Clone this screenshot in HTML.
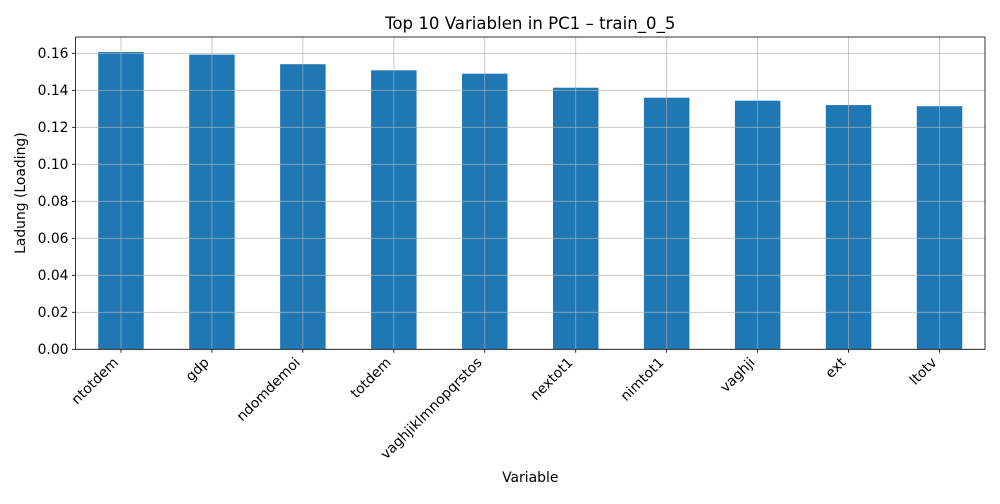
<!DOCTYPE html>
<html><head><meta charset="utf-8"><style>
body{margin:0;background:#fff;font-family:"DejaVu Sans","Liberation Sans",sans-serif}
svg text{font-family:"DejaVu Sans","Liberation Sans",sans-serif;fill:#000}
</style></head><body>
<svg id="chart" width="1000" height="500"></svg>
<script>
const categories=["ntotdem","gdp","ndomdemoi","totdem","vaghjiklmnopqrstos","nextot1","nimtot1","vaghji","ext","ltotv"];
const values=[0.1607,0.1593,0.1541,0.1508,0.1490,0.1414,0.1360,0.1344,0.1320,0.1314];
const yTicks=[0,0.02,0.04,0.06,0.08,0.10,0.12,0.14,0.16];
const yTickLabels=["0.00","0.02","0.04","0.06","0.08","0.10","0.12","0.14","0.16"];
const NS="http://www.w3.org/2000/svg";
const svg=document.getElementById('chart');
const L=75.5,R=985,T=37,B=349.3,yMax=(B-T)/37/50;
const step=(R-L)/categories.length;
const xc=i=>L+step*(i+0.5);
const y=v=>B-(v/yMax)*(B-T);
function mk(t,a){const e=document.createElementNS(NS,t);for(const k in a)e.setAttribute(k,a[k]);svg.appendChild(e);return e;}
values.forEach((v,i)=>{
 const r=mk('rect',{x:xc(i)-step/4,y:y(v),width:step/2,height:B-y(v),fill:'#1f77b4'});
 
 
});
yTicks.forEach((t,i)=>{
 const g=mk('line',{x1:L,x2:R,y1:y(t),y2:y(t),stroke:'#b0b0b0','stroke-width':0.8,'stroke-opacity':0.8});
 
 
 mk('line',{x1:L-3.5,x2:L,y1:y(t),y2:y(t),stroke:'#000','stroke-width':0.8});
 const tx=mk('text',{x:L-7,y:y(t)+4.5,'text-anchor':'end','font-size':13.9});
 tx.textContent=yTickLabels[i];
 
 
});
categories.forEach((c,i)=>{
 const g=mk('line',{x1:xc(i),x2:xc(i),y1:T,y2:B,stroke:'#b0b0b0','stroke-width':0.8,'stroke-opacity':0.8});
 
 
 mk('line',{x1:xc(i),x2:xc(i),y1:B,y2:B+3.5,stroke:'#000','stroke-width':0.8});
 const px=xc(i)-2,py=B+14;
 const tx=mk('text',{x:px,y:py,'text-anchor':'end','font-size':13.9,transform:`rotate(-45 ${px} ${py})`});
 tx.textContent=c;
 
 
});
const fr=mk('rect',{x:L,y:T,width:R-L,height:B-T,fill:'none',stroke:'#000','stroke-width':0.8});


const ti=mk('text',{x:(L+R)/2,y:29,'text-anchor':'middle','font-size':16.6});
ti.textContent='Top 10 Variablen in PC1 – train_0_5';


const xl=mk('text',{x:(L+R)/2,y:482,'text-anchor':'middle','font-size':13.9});
xl.textContent='Variable';


const yl=mk('text',{x:25,y:(T+B)/2,'text-anchor':'middle','font-size':13.9,transform:`rotate(-90 25 ${(T+B)/2})`});
yl.textContent='Ladung (Loading)';


</script>
</body></html>
